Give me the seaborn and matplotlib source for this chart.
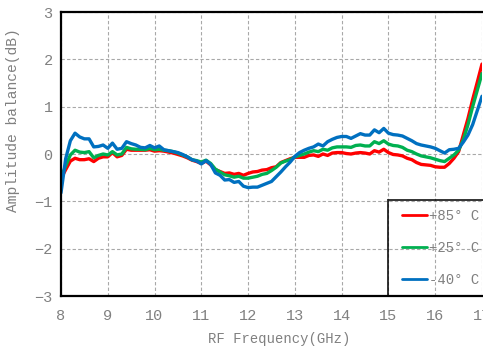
import numpy as np
import pandas as pd
import matplotlib
matplotlib.use("Agg")
import matplotlib.pyplot as plt
from matplotlib.ticker import MultipleLocator
from matplotlib.transforms import ScaledTranslation
import seaborn as sns

freq_ghz = [round(8.0 + 0.1 * i, 1) for i in range(91)]

balance_p85 = [
    -0.52, -0.33, -0.15, -0.09, -0.12, -0.12, -0.10, -0.16, -0.09, -0.06,
    -0.06, 0.03, -0.06, -0.03, 0.10, 0.08, 0.08, 0.08, 0.08, 0.09,
    0.06, 0.07, 0.06, 0.04, 0.02, -0.01, -0.04, -0.08, -0.13, -0.16,
    -0.20, -0.15, -0.23, -0.33, -0.37, -0.41, -0.40, -0.43, -0.41, -0.45,
    -0.41, -0.38, -0.37, -0.34, -0.33, -0.29, -0.27, -0.18, -0.14, -0.10,
    -0.07, -0.07, -0.07, -0.03, -0.02, -0.05, 0.00, -0.03, 0.02, 0.03,
    0.03, 0.01, 0.00, 0.02, 0.03, 0.02, 0.00, 0.07, 0.04, 0.10,
    0.03, -0.01, -0.02, -0.04, -0.09, -0.12, -0.18, -0.22, -0.23, -0.24,
    -0.27, -0.28, -0.28, -0.20, -0.09, 0.05, 0.40, 0.75, 1.15, 1.52,
    1.90,
]

balance_p25 = [
    -0.50, -0.25, -0.02, 0.08, 0.04, 0.03, 0.05, -0.08, -0.03, 0.00,
    -0.02, 0.05, -0.02, 0.00, 0.14, 0.11, 0.10, 0.10, 0.09, 0.12,
    0.09, 0.10, 0.08, 0.07, 0.05, 0.02, -0.02, -0.06, -0.12, -0.14,
    -0.17, -0.13, -0.20, -0.32, -0.38, -0.44, -0.46, -0.49, -0.47, -0.51,
    -0.51, -0.49, -0.47, -0.43, -0.41, -0.35, -0.28, -0.19, -0.15, -0.12,
    -0.06, -0.03, 0.00, 0.04, 0.07, 0.05, 0.10, 0.08, 0.13, 0.15,
    0.15, 0.15, 0.14, 0.18, 0.19, 0.17, 0.17, 0.26, 0.22, 0.28,
    0.21, 0.18, 0.17, 0.14, 0.08, 0.05, 0.00, -0.04, -0.06, -0.08,
    -0.11, -0.14, -0.16, -0.09, -0.02, 0.08, 0.30, 0.62, 1.00, 1.35,
    1.70,
]

balance_m40 = [
    -0.82, -0.10, 0.28, 0.44, 0.36, 0.32, 0.32, 0.15, 0.16, 0.19,
    0.12, 0.23, 0.10, 0.12, 0.26, 0.22, 0.19, 0.14, 0.13, 0.18,
    0.13, 0.17, 0.09, 0.07, 0.05, 0.03, -0.01, -0.06, -0.12, -0.15,
    -0.21, -0.14, -0.22, -0.40, -0.45, -0.55, -0.54, -0.60, -0.58, -0.68,
    -0.71, -0.70, -0.70, -0.66, -0.62, -0.58, -0.48, -0.38, -0.27, -0.17,
    -0.05, 0.03, 0.08, 0.12, 0.15, 0.21, 0.17, 0.26, 0.31, 0.35,
    0.37, 0.37, 0.33, 0.38, 0.43, 0.40, 0.40, 0.51, 0.45, 0.54,
    0.44, 0.41, 0.40, 0.38, 0.33, 0.28, 0.22, 0.19, 0.17, 0.15,
    0.12, 0.07, 0.02, 0.09, 0.10, 0.12, 0.25, 0.40, 0.62, 0.92,
    1.22,
]

series_labels = ["+85° C", "+25° C", "-40° C"]
series_colors = ["#FF0000", "#00B050", "#0070C0"]

df = pd.concat([
    pd.DataFrame({"freq": freq_ghz, "balance": vals, "temp": lab})
    for vals, lab in zip([balance_p85, balance_p25, balance_m40], series_labels)
])

sns.set_theme(style="white")
plt.rcParams["font.family"] = ["Liberation Mono", "DejaVu Sans Mono"]

gray = "#808080"
fig = plt.figure(figsize=(4.83, 3.47), dpi=100)
ax = fig.add_axes([61 / 483, 1 - 296 / 347, 421 / 483, 284 / 347])

sns.lineplot(data=df, x="freq", y="balance", hue="temp", hue_order=series_labels,
             palette=series_colors, linewidth=2.4, ax=ax, legend=False, sort=False)

ax.set_xlim(8, 17)
ax.set_ylim(-3, 3)
ax.xaxis.set_major_locator(MultipleLocator(1))
ax.xaxis.set_minor_locator(MultipleLocator(0.5))
ax.yaxis.set_major_locator(MultipleLocator(1))
ax.yaxis.set_minor_locator(MultipleLocator(0.2))
ax.grid(True, which="major", color="#A8A8A8", linestyle=(0, (3, 2)), linewidth=0.8)
ax.set_axisbelow(True)

ax.tick_params(which="both", direction="in", colors="black", labelcolor=gray,
               labelsize=11)
ax.tick_params(axis="x", which="major", pad=9)
ax.tick_params(axis="y", which="major", pad=6)
ax.tick_params(which="major", length=4, width=1.2)
ax.tick_params(which="minor", length=4, width=1.0)

for side in ["left", "bottom", "top"]:
    ax.spines[side].set_color("black")
    ax.spines[side].set_linewidth(1.6)
ax.spines["right"].set_visible(False)

ax.set_xlabel("RF Frequency(GHz)", color=gray, fontsize=10)
ax.set_ylabel("Amplitude balance(dB)", color=gray, fontsize=10.5)
ax.xaxis.set_label_coords(0.518, -0.125)
ax.yaxis.set_label_coords(-0.097, 0.62)

handles = [plt.Line2D([], [], color=c, linewidth=2.0) for c in series_colors]
leg = ax.legend(handles, series_labels, loc="lower left",
                bbox_to_anchor=(7 / 9, 0, 0.3, 1 / 3), mode="expand",
                frameon=True, fancybox=False, fontsize=10,
                labelcolor=gray, handlelength=1.75, handletextpad=0.15,
                labelspacing=1.3, borderpad=0.65, borderaxespad=0)
frame = leg.get_frame()
frame.set_edgecolor("black")
frame.set_linewidth(1.4)
frame.set_facecolor("none")

# nudge legend entries to the right inside the frame
nudge = ScaledTranslation(5 / 100, 0, fig.dpi_scale_trans)
for art in list(leg.get_lines()) + list(leg.get_texts()):
    art.set_transform(art.get_transform() + nudge)

fig.savefig("out.png", dpi=100)
